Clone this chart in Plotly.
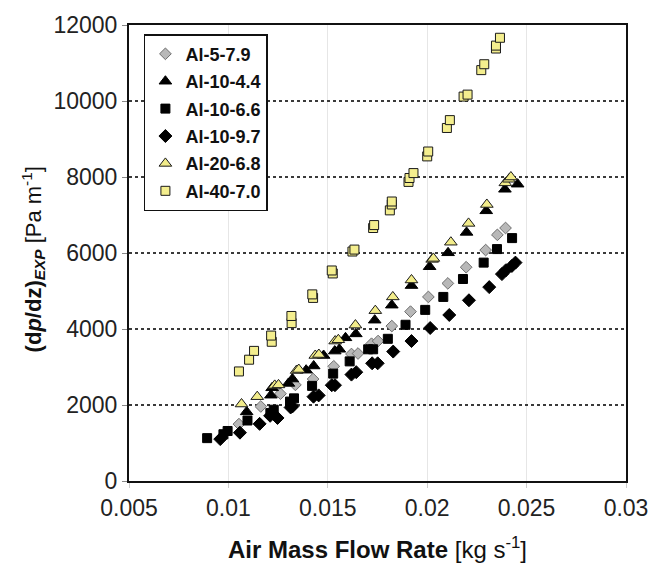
import plotly.graph_objects as go

# Measured pressure gradient vs. air mass flow rate for six foam samples
al_5_7_9_x = [0.01053, 0.01163, 0.01262, 0.01337, 0.01426, 0.01530, 0.01619, 0.01652,
              0.01720, 0.01753, 0.01822, 0.01916, 0.02006, 0.02104, 0.02196, 0.02294,
              0.02353, 0.02394]
al_5_7_9_y = [1497, 1961, 2297, 2529, 2684, 3019, 3342, 3355,
              3613, 3683, 4077, 4457, 4844, 5200, 5626, 6077,
              6477, 6658]

al_10_4_4_x = [0.01092, 0.01214, 0.01220, 0.01302, 0.01322, 0.01391, 0.01429, 0.01479,
               0.01535, 0.01558, 0.01589, 0.01641, 0.01736, 0.01822, 0.01921, 0.02012,
               0.02105, 0.02198, 0.02297, 0.02391, 0.02455]
al_10_4_4_y = [1819, 2258, 2452, 2568, 2684, 2916, 3027, 3303,
               3419, 3466, 3768, 3871, 4232, 4627, 5143, 5639,
               6005, 6542, 7110, 7677, 7811]

al_10_6_6_x = [0.00893, 0.00975, 0.00996, 0.01096, 0.01211, 0.01228, 0.01310, 0.01330,
               0.01421, 0.01527, 0.01610, 0.01703, 0.01728, 0.01802, 0.01891, 0.01990,
               0.02081, 0.02180, 0.02284, 0.02351, 0.02427]
al_10_6_6_y = [1128, 1231, 1316, 1592, 1788, 1876, 2090, 2175,
               2503, 2826, 3148, 3466, 3466, 3742, 4111, 4503,
               4844, 5316, 5747, 6103, 6392]

al_10_9_7_x = [0.00959, 0.01058, 0.01157, 0.01210, 0.01247, 0.01313, 0.01322, 0.01428,
               0.01454, 0.01520, 0.01536, 0.01619, 0.01643, 0.01723, 0.01751, 0.01829,
               0.01921, 0.02015, 0.02111, 0.02210, 0.02312, 0.02376, 0.02396, 0.02426,
               0.02444]
al_10_9_7_y = [1102, 1272, 1504, 1716, 1659, 1935, 1961, 2219,
               2253, 2521, 2521, 2800, 2864, 3097, 3097, 3406,
               3683, 4026, 4369, 4756, 5102, 5445, 5548, 5659,
               5747]

al_20_6_8_x = [0.01066, 0.01145, 0.01233, 0.01252, 0.01343, 0.01354, 0.01437, 0.01455,
               0.01537, 0.01553, 0.01639, 0.01739, 0.01827, 0.01921, 0.02025, 0.02031,
               0.02119, 0.02208, 0.02300, 0.02393, 0.02411, 0.02421]
al_20_6_8_y = [2026, 2219, 2516, 2529, 2908, 2934, 3303, 3329,
               3683, 3716, 4103, 4483, 4844, 5290, 5832, 5858,
               6284, 6779, 7277, 7845, 7940, 8000]

al_40_7_0_x = [0.01053, 0.01104, 0.01129, 0.01218, 0.01215, 0.01318, 0.01317, 0.01426,
               0.01422, 0.01525, 0.01520, 0.01624, 0.01634, 0.01728, 0.01733, 0.01812,
               0.01822, 0.01822, 0.01906, 0.01911, 0.01931, 0.02000, 0.02005, 0.02099,
               0.02114, 0.02183, 0.02203, 0.02272, 0.02287, 0.02346, 0.02346, 0.02366]
al_40_7_0_y = [2883, 3192, 3424, 3664, 3827, 4155, 4343, 4818,
               4911, 5462, 5540, 6039, 6090, 6658, 6735, 7122,
               7277, 7355, 7871, 7974, 8103, 8542, 8671, 9290,
               9497, 10116, 10168, 10813, 10968, 11381, 11458, 11664]

x_tick_vals = [0.005, 0.01, 0.015, 0.02, 0.025, 0.03]
x_tick_text = ["0.005", "0.01", "0.015", "0.02", "0.025", "0.03"]
y_tick_vals = [0, 2000, 4000, 6000, 8000, 10000, 12000]
y_tick_text = ["0", "2000", "4000", "6000", "8000", "10000", "12000"]

series = [
    ("Al-5-7.9", al_5_7_9_x, al_5_7_9_y, "diamond", 9, "#b8b8b8", "#6e6e6e"),
    ("Al-10-4.4", al_10_4_4_x, al_10_4_4_y, "triangle-up", 11, "#000000", "#000000"),
    ("Al-10-6.6", al_10_6_6_x, al_10_6_6_y, "square", 9, "#000000", "#000000"),
    ("Al-10-9.7", al_10_9_7_x, al_10_9_7_y, "diamond", 10, "#000000", "#000000"),
    ("Al-20-6.8", al_20_6_8_x, al_20_6_8_y, "triangle-up", 11, "#f2ec8a", "#1a1a1a"),
    ("Al-40-7.0", al_40_7_0_x, al_40_7_0_y, "square", 9, "#f4ee8e", "#1a1a1a"),
]

fig = go.Figure()
for name, xs, ys, sym, size, fill, edge in series:
    fig.add_trace(go.Scatter(
        x=xs, y=ys, mode="markers", name="<b>" + name + "</b>", legendgroup=name,
        marker=dict(symbol=sym, size=size, color=fill,
                    line=dict(color=edge, width=1)),
    ))

font_family = "Liberation Sans, Arial, sans-serif"
tick_font = dict(family=font_family, size=23, color="#222222")

fig.update_layout(
    width=660, height=568,
    margin=dict(l=129, r=26, t=16, b=87),
    paper_bgcolor="white", plot_bgcolor="white",
    showlegend=True,
    legend=dict(
        x=0.03, y=0.98, xanchor="left", yanchor="top",
        bgcolor="white", bordercolor="#111111", borderwidth=1.5,
        font=dict(family=font_family, size=18, color="#111111"),
        tracegroupgap=1, itemwidth=30,
    ),
    xaxis=dict(
        range=[0.005, 0.03], tickvals=x_tick_vals, ticktext=x_tick_text,
        showgrid=True, gridcolor="#e6e6e6", gridwidth=1,
        showline=True, linecolor="#111111", linewidth=2, mirror=True,
        ticks="outside", ticklen=5, tickcolor="#cccccc",
        tickfont=tick_font, zeroline=False,
    ),
    yaxis=dict(
        range=[0, 12000], tickvals=y_tick_vals, ticktext=y_tick_text,
        showgrid=True, gridcolor="#3a3a3a", gridwidth=2, griddash="dot",
        showline=True, linecolor="#111111", linewidth=2, mirror=True,
        ticks="outside", ticklen=5, tickcolor="#888888",
        tickfont=tick_font, zeroline=False,
    ),
    annotations=[
        dict(
            text="<b>Air Mass Flow Rate</b> [kg s<sup>-1</sup>]",
            xref="paper", yref="paper", x=0.5, y=0, xanchor="center", yanchor="middle",
            yshift=-67, showarrow=False,
            font=dict(family=font_family, size=24, color="#111111"),
        ),
        dict(
            text="<b>(d<i>p</i>/dz)<sub><i>EXP</i></sub></b> [Pa m<sup>-1</sup>]",
            xref="paper", yref="paper", x=0, y=0.486, xanchor="center", yanchor="middle",
            xshift=-96, textangle=-90, showarrow=False,
            font=dict(family=font_family, size=22, color="#111111"),
        ),
    ],
)

fig.write_html("out.html")
